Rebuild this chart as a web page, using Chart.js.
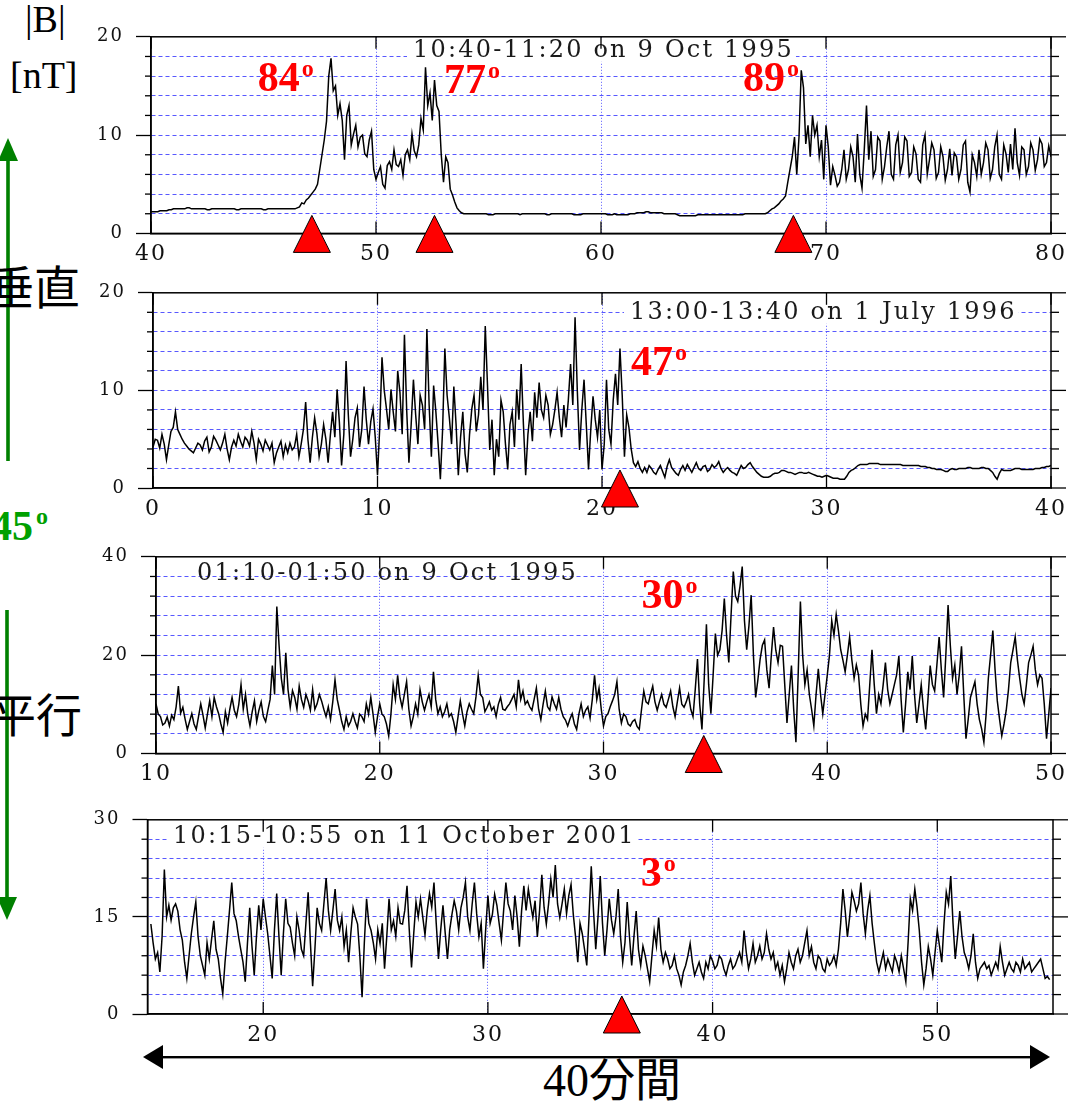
<!DOCTYPE html>
<html>
<head>
<meta charset="utf-8">
<script src="https://cdn.jsdelivr.net/npm/chart.js@4.4.0/dist/chart.umd.min.js"></script>
<style>
  body { margin: 0; background: #fff; width: 1073px; height: 1103px; position: relative; overflow: hidden; }
  .panel { position: absolute; left: 0; width: 1073px; }
  .lbl { position: absolute; white-space: nowrap; line-height: 1; }
  .serif { font-family: "Liberation Serif", "DejaVu Serif", serif; }
  .cjk { font-family: "Noto Sans CJK JP", "Noto Sans CJK SC", sans-serif; }
</style>
</head>
<body>

<svg width="1073" height="1103" style="position:absolute;left:0;top:0">
  <g fill="#008000">
    <rect x="6.2" y="158" width="3.6" height="303"/>
    <polygon points="8,138 -2,161 18,161"/>
    <rect x="5.2" y="610" width="3.6" height="290"/>
    <polygon points="7,920 -3,897 17,897"/>
  </g>
  <g fill="#000">
    <rect x="160" y="1056" width="875" height="2.4"/>
    <polygon points="143,1057 163,1045 163,1069"/>
    <polygon points="1050,1057 1030,1045 1030,1069"/>
  </g>
</svg>

<div class="lbl serif" style="left:25px;top:0px;font-size:38px;">|B|</div>
<div class="lbl serif" style="left:10px;top:56px;font-size:38px;">[nT]</div>
<div class="lbl cjk" style="left:-12px;top:261px;font-size:46px;">垂直</div>
<div class="lbl cjk" style="left:-10px;top:689px;font-size:46px;">平行</div>
<div class="lbl serif" style="left:-9px;top:505px;font-size:42px;font-weight:bold;color:#00a000;">45<span style="font-size:24px;position:relative;top:-16px;margin-left:3px;">o</span></div>
<div class="lbl" style="left:512px;top:1058px;width:200px;text-align:center;font-size:46px;font-family:'Liberation Serif','Noto Sans CJK JP',serif;">40分間</div>

<script>
// ---------- data: |B| [nT] every 0.1 min ----------
const p1Title = '10:40-11:20 on 9 Oct 1995';
const p1Times = [40, 80];
const p1Values = [
  2.2, 2.2, 2.2, 2.2, 2.3, 2.3, 2.3, 2.3, 2.4, 2.4,
  2.5, 2.5, 2.5, 2.5, 2.5, 2.5, 2.6, 2.6, 2.5, 2.5,
  2.5, 2.5, 2.5, 2.5, 2.5, 2.4, 2.4, 2.5, 2.5, 2.5,
  2.5, 2.5, 2.5, 2.5, 2.5, 2.5, 2.5, 2.5, 2.4, 2.4,
  2.5, 2.5, 2.5, 2.5, 2.5, 2.5, 2.5, 2.5, 2.5, 2.5,
  2.4, 2.4, 2.5, 2.5, 2.5, 2.5, 2.5, 2.5, 2.5, 2.5,
  2.5, 2.5, 2.5, 2.5, 2.5,
  2.6, 2.7, 3.1, 3.0, 3.4,
  3.6, 3.9, 4.2, 4.5, 5.0, 6.5, 8.0, 9.5, 11.4, 16.0,
  17.8, 14.5, 15.0, 12.0, 13.2, 11.5, 7.5, 12.0, 13.0, 9.0,
  10.1, 11.0, 8.8, 9.8, 10.0, 8.1, 7.8, 9.5, 10.4, 6.5,
  5.5, 6.2, 6.8, 5.0, 4.6, 6.9, 7.3, 6.5, 8.5, 7.0,
  6.8, 7.5, 5.9, 8.0, 8.5, 7.5, 10.1, 8.4, 7.8, 9.0,
  11.7, 10.5, 16.9, 13.0, 14.3, 11.5, 15.6, 13.0, 12.4, 8.0,
  5.2, 7.8, 7.2, 4.5, 3.9, 3.2, 2.6, 2.3, 2.1, 2.0,
  2.0,
  2.0, 2.0, 2.0, 2.0, 2.0, 2.0, 2.0, 2.0, 2.0,
  1.9, 1.9, 1.9, 2.0, 2.0, 2.0, 2.0, 2.0, 2.0, 2.0,
  2.0, 2.0, 2.0, 2.0, 1.9, 2.0, 2.0, 2.0, 2.0, 2.0,
  2.0, 2.0, 2.0, 2.0, 2.0, 2.0, 1.9, 1.9, 2.0, 2.0,
  2.0, 2.0, 2.0, 2.0, 2.0, 2.0, 2.0, 2.0, 1.9, 1.9,
  1.9, 1.9, 2.0, 2.0, 2.0, 2.0, 2.0, 2.0, 2.0, 2.0,
  2.0, 2.0, 2.0, 1.9, 1.9, 1.9, 2.0, 1.9, 1.9, 1.9,
  1.9, 1.9, 1.9, 2.0, 2.0, 2.0, 2.1, 2.1, 2.1, 2.1,
  2.2, 2.2, 2.1, 2.1, 2.1, 2.1, 2.1, 2.1, 2.0, 2.0,
  2.0, 2.0, 2.0, 2.0, 1.9, 1.8, 1.8, 1.8, 1.8, 1.8,
  1.8, 1.8, 1.8, 1.9, 1.9, 1.9, 1.9, 1.9, 1.9, 1.9,
  1.9, 1.9, 1.9, 1.9, 1.9, 1.9, 1.9, 1.9, 1.9, 1.9,
  1.9, 1.9, 1.9, 1.9, 2.0, 2.0, 2.0, 2.0, 2.0, 2.0,
  2.0, 2.0, 2.0,
  2.0, 2.1, 2.3, 2.5, 2.6, 2.8, 3.0,
  3.3, 3.5, 3.8, 5.2, 6.5, 7.8, 9.8, 6.0, 9.8, 16.6,
  14.8, 9.1, 11.0, 7.8, 12.0, 10.0, 11.0, 7.8, 9.5, 5.5,
  11.0, 8.8, 4.9, 6.8, 5.9, 4.8, 5.2, 6.5, 8.5, 5.5,
  6.5, 8.8, 7.8, 5.2, 10.1, 6.0, 4.6, 8.5, 13.0, 7.5,
  10.4, 5.8, 6.5, 9.8, 9.4, 5.5, 6.8, 8.8, 10.4, 6.0,
  5.5, 9.0, 10.0, 6.2, 7.2, 9.8, 9.4, 5.8, 6.2, 8.8,
  8.1, 5.5, 5.2, 9.0, 10.0, 6.0, 7.5, 9.2, 8.5, 5.6,
  6.2, 8.8, 7.8, 5.4, 6.5, 8.6, 5.9, 8.2, 7.8, 5.5,
  6.5, 9.0, 9.4, 5.2, 4.2, 8.0, 7.2, 5.8, 8.5, 6.0,
  7.2, 9.2, 8.5, 5.6, 6.5, 8.8, 10.0, 6.0, 5.5, 9.0,
  8.1, 6.2, 9.1, 6.5, 10.7, 7.2, 5.9, 8.8, 8.5, 6.0,
  6.8, 9.2, 8.5, 6.4, 7.5, 9.6, 9.1, 6.8, 7.2, 8.9,
  7.8
];
const p1Marks = [47.15, 52.6, 68.55];
const p1Angles = ['84', '77', '89'];

const p2Title = '13:00-13:40 on 1 July 1996';
const p2Times = [0, 40];
const p2Values = [
  4.2, 5.0, 4.9, 4.1, 5.5, 4.5, 2.9, 4.4, 5.8, 6.2, 7.8, 6.0, 5.5, 5.0, 4.6, 4.3, 4.0, 3.8, 3.6, 4.1,
  4.6, 4.4, 3.9, 4.8, 5.2, 3.7, 4.2, 5.3, 4.9, 4.4, 3.9, 4.6, 5.5, 4.0, 2.9, 4.2, 4.9, 4.3, 5.5, 4.8,
  4.2, 5.2, 4.9, 4.3, 5.8, 4.6, 2.9, 5.0, 4.5, 3.8, 4.9, 4.4, 3.9, 4.6, 2.6, 3.6, 4.2, 4.8, 3.2, 4.4,
  3.6, 4.6, 3.9, 4.2, 5.5, 3.2, 4.5, 6.0, 8.8, 5.0, 2.6, 5.2, 7.2, 5.6, 3.2, 4.5, 6.5, 5.0, 2.6, 5.4,
  7.8, 5.2, 10.1, 6.8, 2.3, 5.5, 13.0, 7.5, 3.2, 5.0, 7.2, 8.2, 4.2, 6.0, 10.4, 7.0, 4.5, 6.8, 8.1, 5.2,
  1.3, 6.2, 13.4, 10.0, 8.1, 6.0, 10.1, 7.8, 5.8, 12.0, 9.8, 5.5, 15.7, 8.0, 2.6, 6.5, 11.1, 7.5, 4.5, 9.5,
  8.5, 6.0, 16.3, 8.5, 3.2, 10.5, 7.8, 4.5, 0.9, 6.0, 14.3, 9.5, 7.2, 4.5, 10.4, 6.5, 1.3, 5.2, 7.8, 3.5,
  1.6, 5.5, 8.1, 9.5, 5.8, 7.5, 11.4, 8.0, 16.6, 10.5, 3.9, 7.0, 1.3, 5.0, 3.2, 9.0, 7.8, 4.5, 1.9, 6.5,
  7.8, 4.2, 10.1, 7.0, 12.7, 6.5, 1.3, 5.5, 7.8, 4.8, 9.8, 7.2, 10.8, 8.0, 7.2, 9.5, 8.5, 5.5, 6.5, 8.0,
  9.8, 7.2, 5.2, 8.5, 6.2, 9.0, 12.7, 8.5, 17.5, 10.0, 3.9, 8.0, 11.1, 6.5, 1.9, 6.0, 9.4, 7.0, 5.2, 8.0,
  1.9, 4.5, 11.1, 6.0, 4.5, 9.0, 11.7, 8.5, 14.3, 9.5, 3.2, 7.5, 6.2, 4.0, 2.6, 2.2, 2.7, 2.0, 1.6, 2.1,
  1.6, 2.3, 2.0, 1.6, 1.4, 1.9, 2.3, 1.7, 1.1, 2.2, 2.9, 2.1, 1.8, 1.5, 1.3, 1.9, 2.3, 1.8, 2.4, 2.0,
  1.6, 2.1, 2.6, 2.0, 1.8, 2.2, 2.3, 1.7, 1.9, 2.4, 2.1, 2.3, 2.7, 2.0, 1.6, 1.9, 2.1, 1.8, 1.6, 1.5,
  1.3, 1.8, 2.3, 2.0, 2.1, 2.4, 2.6, 2.2, 1.9, 1.6, 1.4, 1.2, 1.1, 1.1, 1.1, 1.2, 1.4, 1.5, 1.5, 1.6,
  1.8, 1.8, 1.7, 1.6, 1.6, 1.5, 1.4, 1.5, 1.6, 1.6, 1.5, 1.5, 1.6, 1.5, 1.4, 1.3, 1.2, 1.2, 1.1, 1.2,
  1.3, 1.2, 1.1, 1.0, 1.0, 1.0, 0.9, 0.9, 0.9, 1.2, 1.6, 1.8, 1.9, 2.1, 2.3, 2.4, 2.4, 2.4, 2.4, 2.5,
  2.5, 2.5, 2.5, 2.5, 2.4, 2.4, 2.4, 2.4, 2.4, 2.4, 2.4, 2.4, 2.4, 2.4, 2.3, 2.3, 2.3, 2.3, 2.3, 2.3,
  2.3, 2.3, 2.2, 2.2, 2.2, 2.1, 2.1, 2.0, 2.0, 1.9, 1.9, 1.9, 1.8, 1.7, 1.7, 1.9, 2.0, 1.9, 1.9, 2.0,
  2.0, 2.0, 2.0, 2.1, 2.1, 2.0, 2.0, 2.0, 2.0, 2.1, 2.1, 2.0, 2.0, 1.8, 1.6, 1.2, 0.9, 1.5, 1.9, 1.8,
  1.8, 1.8, 1.8, 1.9, 2.0, 2.0, 2.0, 1.9, 1.9, 1.9, 1.9, 1.9, 1.9, 2.0, 2.0, 2.0, 2.1, 2.1, 2.2, 2.2,
  2.3
];
const p2Marks = [20.8];
const p2Angles = ['47'];

const p3Title = '01:10-01:50 on 9 Oct 1995';
const p3Times = [10, 50];
const p3Values = [
  10.1, 8.0, 7.5, 5.8, 6.2, 7.4, 5.6, 7.8, 6.9, 9.5, 13.7, 8.2, 9.4, 7.0, 4.9, 6.5, 8.1, 6.0, 4.9, 7.5,
  10.1, 7.8, 5.2, 8.0, 10.7, 7.5, 11.4, 9.5, 8.1, 6.0, 4.3, 8.5, 6.2, 9.0, 11.4, 8.8, 7.5, 10.0, 14.0, 9.0,
  12.0, 8.0, 5.6, 8.5, 10.7, 6.5, 8.8, 10.5, 7.5, 6.5, 8.8, 11.0, 17.9, 12.0, 29.9, 22.0, 15.3, 12.0, 20.5, 13.0,
  9.4, 12.8, 11.4, 9.0, 13.7, 11.0, 9.4, 12.0, 10.7, 8.8, 13.0, 9.0, 10.1, 12.0, 10.7, 9.0, 7.5, 9.5, 6.9, 10.5,
  15.0, 11.0, 8.8, 6.5, 4.9, 7.5, 5.6, 6.5, 8.1, 6.5, 5.2, 8.0, 7.5, 6.5, 10.1, 8.0, 11.4, 8.0, 4.3, 7.5,
  10.1, 8.0, 7.5, 6.0, 3.6, 8.0, 14.0, 11.0, 15.9, 11.5, 9.4, 12.0, 14.6, 9.0, 5.6, 7.5, 10.1, 8.0, 13.0, 10.5,
  8.8, 10.5, 12.0, 9.5, 16.6, 11.0, 8.1, 9.5, 7.5, 8.5, 10.1, 7.5, 8.1, 6.5, 4.3, 7.5, 10.7, 8.0, 5.6, 8.5,
  10.1, 9.0, 8.1, 11.5, 15.9, 12.0, 11.4, 8.5, 9.4, 10.5, 8.8, 9.5, 7.5, 10.0, 11.4, 9.0, 8.8, 9.5, 10.1, 11.0,
  12.0, 9.5, 15.0, 11.0, 12.7, 10.0, 10.7, 9.5, 8.8, 11.0, 13.3, 9.0, 6.9, 10.0, 12.7, 9.5, 8.8, 11.5, 10.1, 9.0,
  11.4, 9.0, 7.5, 6.8, 5.6, 7.0, 8.1, 6.0, 4.9, 8.0, 10.1, 7.5, 8.8, 9.5, 7.2, 11.0, 15.9, 11.0, 13.3, 9.0,
  5.6, 7.5, 8.1, 9.5, 10.7, 12.0, 14.6, 9.0, 6.2, 8.0, 7.5, 6.0, 5.6, 6.5, 6.9, 5.5, 4.9, 9.0, 12.7, 10.5,
  10.1, 12.0, 13.7, 10.5, 8.8, 10.5, 12.0, 10.0, 9.4, 11.0, 12.7, 9.5, 7.5, 10.5, 13.3, 10.0, 9.4, 10.5, 12.0, 9.0,
  7.5, 13.0, 19.2, 10.0, 4.9, 15.0, 26.3, 14.0, 8.1, 16.0, 24.4, 20.0, 21.1, 25.0, 31.5, 24.0, 18.5, 28.0, 37.0, 32.0,
  30.9, 34.0, 38.0, 27.0, 21.1, 26.0, 32.2, 20.0, 11.4, 15.0, 19.2, 22.0, 23.1, 17.0, 13.3, 20.0, 25.7, 21.0, 18.5, 22.0,
  21.8, 14.0, 6.2, 12.0, 17.9, 9.0, 2.3, 16.0, 30.9, 20.0, 14.0, 17.0, 12.0, 9.0, 5.6, 12.0, 17.2, 12.0, 8.1, 12.0,
  15.9, 20.0, 27.0, 24.0, 28.3, 25.0, 21.1, 19.0, 16.6, 20.0, 23.7, 19.0, 15.3, 18.0, 15.9, 10.0, 5.6, 8.0, 6.9, 14.0,
  21.1, 14.0, 8.1, 12.0, 10.1, 14.0, 18.5, 13.0, 10.1, 12.0, 14.0, 16.0, 19.8, 11.0, 4.3, 10.0, 16.6, 13.0, 19.8, 12.0,
  6.2, 10.0, 14.0, 9.0, 4.9, 11.0, 17.9, 14.0, 12.7, 18.0, 23.7, 17.0, 11.4, 20.0, 30.2, 22.0, 15.3, 18.0, 12.0, 16.0,
  21.8, 12.0, 3.0, 7.0, 11.4, 13.0, 14.6, 10.0, 6.9, 5.0, 2.3, 8.0, 15.3, 20.0, 25.0, 17.0, 10.7, 7.0, 3.6, 6.0,
  8.8, 13.0, 18.5, 21.0, 23.7, 19.0, 15.3, 12.0, 10.1, 14.0, 18.5, 20.0, 21.8, 17.0, 14.0, 16.0, 15.3, 10.0, 3.0, 8.0,
  13.3
];
const p3Marks = [34.48];
const p3Angles = ['30'];

const p4Title = '10:15-10:55 on 11 October 2001';
const p4Times = [15, 55];
const p4Values = [
  13.9, 11.0, 8.5, 9.5, 6.5, 12.0, 22.3, 15.0, 16.8, 14.5, 16.4, 17.0, 15.9, 13.0, 11.4, 8.0, 5.5, 9.0, 12.4, 15.0,
  17.3, 12.0, 9.0, 7.5, 6.0, 11.0, 8.5, 11.5, 14.4, 10.0, 8.5, 5.5, 3.1, 8.0, 11.9, 16.0, 20.3, 15.5, 14.4, 12.0,
  10.0, 8.0, 5.0, 11.0, 16.4, 10.5, 6.0, 12.0, 16.8, 13.0, 17.8, 15.0, 12.4, 9.0, 5.5, 13.0, 18.6, 12.0, 6.0, 12.5,
  17.8, 14.0, 13.4, 11.0, 9.0, 15.0, 12.9, 10.0, 9.0, 14.0, 18.8, 11.0, 4.3, 10.0, 16.4, 14.0, 12.9, 17.0, 21.0, 16.0,
  12.9, 16.0, 19.3, 14.5, 12.9, 15.0, 10.4, 13.0, 8.0, 12.5, 16.4, 15.0, 13.9, 9.0, 2.6, 11.0, 17.8, 14.0, 12.9, 11.0,
  8.5, 13.0, 10.9, 14.0, 7.0, 12.0, 17.8, 13.0, 14.4, 12.0, 16.4, 14.0, 13.9, 16.0, 19.8, 13.0, 7.2, 12.5, 17.3, 15.0,
  17.8, 15.0, 12.2, 16.0, 18.6, 16.5, 20.3, 14.0, 8.5, 13.0, 16.8, 12.5, 8.5, 13.0, 15.4, 17.5, 15.9, 13.0, 16.4, 18.0,
  20.3, 15.0, 12.9, 17.0, 20.3, 15.5, 11.9, 14.0, 7.0, 13.0, 18.3, 14.0, 15.4, 18.5, 16.8, 14.0, 11.4, 16.0, 20.3, 17.0,
  15.9, 13.0, 18.3, 15.0, 10.4, 16.0, 19.8, 16.0, 19.3, 17.0, 14.9, 17.5, 11.9, 16.0, 21.5, 16.5, 13.9, 17.0, 20.8, 18.0,
  23.0, 17.0, 14.9, 17.0, 19.3, 15.5, 18.3, 20.0, 15.4, 12.0, 8.0, 14.0, 12.4, 10.0, 7.5, 15.0, 22.8, 16.0, 10.0, 15.0,
  21.3, 14.0, 9.0, 13.0, 17.8, 14.5, 12.4, 15.0, 19.3, 12.0, 8.0, 11.0, 17.3, 12.0, 7.5, 12.0, 15.9, 10.0, 7.5, 10.5,
  9.0, 7.0, 5.0, 9.0, 12.9, 10.5, 14.9, 10.0, 8.0, 9.5, 8.5, 7.0, 7.5, 9.0, 7.0, 6.0, 4.5, 6.5, 7.5, 9.0,
  10.9, 8.0, 6.0, 7.0, 8.0, 6.5, 5.5, 8.0, 7.0, 9.0, 8.2, 7.0, 7.5, 9.0, 8.5, 7.0, 6.0, 7.5, 8.5, 7.0,
  7.5, 8.5, 9.5, 8.0, 12.9, 9.5, 7.0, 8.5, 10.9, 8.0, 9.0, 10.5, 8.5, 9.5, 12.4, 10.0, 8.5, 9.5, 7.0, 8.0,
  6.0, 7.5, 5.0, 7.0, 9.5, 8.0, 7.0, 9.0, 10.0, 8.0, 9.0, 11.0, 12.9, 9.0, 10.4, 8.0, 7.0, 9.0, 8.5, 7.0,
  6.5, 8.5, 7.5, 8.0, 9.0, 7.5, 10.0, 14.0, 19.3, 16.0, 11.9, 15.0, 18.8, 17.5, 15.9, 17.0, 20.3, 15.5, 12.4, 16.0,
  18.3, 14.0, 10.9, 8.0, 6.5, 8.0, 9.5, 7.0, 8.5, 7.5, 6.5, 9.0, 8.0, 6.5, 9.0, 7.0, 5.0, 11.0, 17.8, 16.0,
  19.3, 16.5, 12.9, 8.0, 4.5, 7.0, 10.4, 8.5, 6.0, 9.5, 12.9, 10.5, 8.0, 14.0, 18.8, 17.0, 21.3, 14.0, 8.5, 12.0,
  15.9, 12.0, 9.5, 8.5, 7.0, 9.0, 12.4, 8.0, 5.5, 7.0, 7.5, 8.0, 7.0, 7.5, 6.0, 7.0, 8.0, 7.0, 10.4, 8.0,
  6.0, 7.0, 8.0, 7.0, 6.5, 8.0, 7.5, 6.5, 8.5, 7.0, 7.5, 8.0, 6.5, 7.0, 7.5, 8.0, 8.5, 7.0, 5.5, 5.8,
  5.3
];
const p4Marks = [35.96];
const p4Angles = ['3'];

// ---------- layout of the four panels (pixels on the page) ----------
const panels = [
  { top: 28.5, bottom: 233.4, left: 151, right: 1054, xMin: 40, xMax: 80, yMax: 20, yStep: 2, yLabelStep: 10,
    times: p1Times, values: p1Values, marks: p1Marks, angles: p1Angles,
    anglePos: [[44.74, 14.5], [53.02, 14.3], [66.31, 14.5]],
    title: p1Title, titleX: 413, titleDy: 14, titleBg: true },
  { top: 284, bottom: 488, left: 153, right: 1055, xMin: 0, xMax: 40, yMax: 20, yStep: 2, yLabelStep: 10,
    times: p2Times, values: p2Values, marks: p2Marks, angles: p2Angles,
    anglePos: [[21.29, 11.6]],
    title: p2Title, titleX: 630, titleDy: 20, titleBg: true },
  { top: 548, bottom: 753.5, left: 156, right: 1058, xMin: 10, xMax: 50, yMax: 40, yStep: 4, yLabelStep: 20,
    times: p3Times, values: p3Values, marks: p3Marks, angles: p3Angles,
    anglePos: [[31.7, 29.6]],
    title: p3Title, titleX: 197, titleDy: 17, titleBg: false },
  { top: 811, bottom: 1014, left: 147.5, right: 1053, xMin: 14.85, xMax: 55.15, yMax: 30, yStep: 3, yLabelStep: 15,
    times: p4Times, values: p4Values, marks: p4Marks, angles: p4Angles,
    anglePos: [[36.8, 19.8]],
    title: p4Title, titleX: 173, titleDy: 17, titleBg: true }
];

Chart.defaults.font.family = '"DejaVu Serif", serif';
Chart.defaults.color = '#111';
const gridBlue = 'rgba(70,70,255,0.9)';

function line(ctx, x1, y1, x2, y2) {
  ctx.beginPath();
  ctx.moveTo(x1, y1);
  ctx.lineTo(x2, y2);
  ctx.stroke();
}

// frame, extra ticks, title, red markers and angle labels
function makeDeco(p) {
  return {
    id: 'deco',
    beforeDraw(chart) {
      chart.ctx.letterSpacing = '2px';
    },
    beforeDatasetsDraw(chart) {
      const ctx = chart.ctx, a = chart.chartArea;
      ctx.save();
      ctx.font = '24px "DejaVu Serif"';
      ctx.letterSpacing = '2.2px';
      const w = ctx.measureText(p.title).width;
      const y = a.top + p.titleDy;
      if (p.titleBg) {
        ctx.fillStyle = '#fff';
        ctx.fillRect(p.titleX - 6, y - 11, w + 8, 22);
      }
      ctx.fillStyle = '#1a1a1a';
      ctx.textBaseline = 'middle';
      ctx.fillText(p.title, p.titleX, y);
      ctx.restore();
    },
    afterDraw(chart) {
      const ctx = chart.ctx, a = chart.chartArea;
      const xs = chart.scales.x, ys = chart.scales.y;
      ctx.save();
      ctx.letterSpacing = '0px';
      ctx.strokeStyle = '#000';
      ctx.lineWidth = 1.5;
      ctx.strokeRect(a.left, a.top, a.right - a.left, a.bottom - a.top);
      ctx.lineWidth = 1.3;
      xs.ticks.forEach(t => {
        const px = xs.getPixelForValue(t.value);
        line(ctx, px, a.top, px, a.top + 12);
        line(ctx, px, a.bottom, px, a.bottom - 12);
      });
      ys.ticks.forEach(t => {
        const py = ys.getPixelForValue(t.value);
        const major = t.value % p.yLabelStep === 0;
        if (!major) line(ctx, a.left - 6, py, a.left, py);
        line(ctx, a.right, py, a.right + (major ? 15 : 8), py);
      });

      // red triangles at the crossing times
      p.marks.forEach(t => {
        const px = xs.getPixelForValue(t);
        ctx.beginPath();
        ctx.moveTo(px, a.bottom - 18);
        ctx.lineTo(px + 18.5, a.bottom + 19);
        ctx.lineTo(px - 18.5, a.bottom + 19);
        ctx.closePath();
        ctx.fillStyle = '#ff0000';
        ctx.fill();
        ctx.strokeStyle = '#000';
        ctx.lineWidth = 1;
        ctx.stroke();
      });

      // angle labels
      ctx.fillStyle = '#ff0000';
      ctx.textBaseline = 'alphabetic';
      p.angles.forEach((txt, i) => {
        const x = xs.getPixelForValue(p.anglePos[i][0]);
        const y = ys.getPixelForValue(p.anglePos[i][1]);
        ctx.font = 'bold 42px "Liberation Serif"';
        ctx.fillText(txt, x, y);
        const w = ctx.measureText(txt).width;
        ctx.font = 'bold 24px "Liberation Serif"';
        ctx.fillText('o', x + w + 2, y - 15);
      });
      ctx.restore();
    }
  };
}

function makePanel(p) {
  const canvasTop = Math.floor(p.top) - 14;
  const h = Math.ceil(p.bottom - canvasTop) + 46;
  const wrap = document.createElement('div');
  wrap.className = 'panel';
  wrap.style.top = canvasTop + 'px';
  const cv = document.createElement('canvas');
  cv.width = 1073;
  cv.height = h;
  wrap.appendChild(cv);
  document.body.appendChild(wrap);

  const n = p.values.length;
  const span = p.times[1] - p.times[0];
  const pts = p.values.map((v, i) => ({ x: p.times[0] + i * span / (n - 1), y: v }));

  new Chart(cv, {
    type: 'line',
    data: {
      datasets: [{
        data: pts,
        borderColor: '#000',
        borderWidth: 1.5,
        pointRadius: 0,
        tension: 0,
        fill: false
      }]
    },
    options: {
      responsive: false,
      animation: false,
      events: [],
      layout: {
        padding: {
          left: 0,
          right: 1073 - p.right,
          top: p.top - canvasTop,
          bottom: h - (p.bottom - canvasTop) - 44
        }
      },
      plugins: { legend: { display: false }, tooltip: { enabled: false } },
      scales: {
        x: {
          type: 'linear',
          min: p.xMin,
          max: p.xMax,
          afterFit: s => { s.height = 44; },
          border: { color: '#000', width: 1.5, dash: [1, 2] },
          grid: {
            drawTicks: false,
            lineWidth: 1,
            color: c => (c.tick && c.tick.value > p.xMin && c.tick.value < p.xMax) ? gridBlue : 'transparent'
          },
          ticks: { stepSize: 10, includeBounds: false, autoSkip: false, maxRotation: 0, padding: 8, font: { size: 22 } }
        },
        y: {
          min: 0,
          max: p.yMax,
          afterFit: s => { s.width = p.left; },
          border: { color: '#000', width: 1.5, dash: [4, 3] },
          grid: {
            tickLength: 15,
            tickWidth: 1.3,
            lineWidth: 1,
            color: c => (c.tick && c.tick.value > 0 && c.tick.value < p.yMax) ? gridBlue : 'transparent',
            tickColor: c => (c.tick && c.tick.value % p.yLabelStep === 0) ? '#000' : 'transparent'
          },
          ticks: {
            stepSize: p.yStep,
            autoSkip: false,
            padding: 12,
            font: { size: 18 },
            callback: v => (v % p.yLabelStep === 0 ? v : '')
          }
        }
      }
    },
    plugins: [makeDeco(p)]
  });
}

panels.forEach(makePanel);
</script>
</body>
</html>
